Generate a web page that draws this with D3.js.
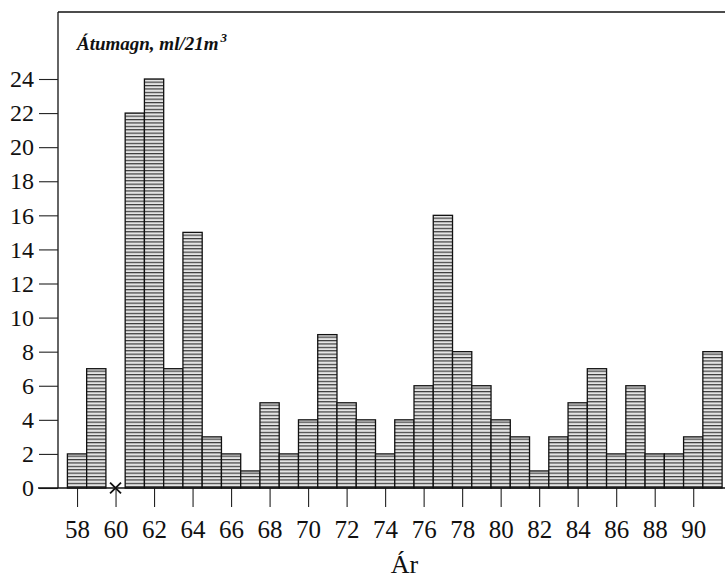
<!DOCTYPE html>
<html>
<head>
<meta charset="utf-8">
<script src="https://cdn.jsdelivr.net/npm/d3@7"></script>
<style>
  body { margin: 0; background: #fff; }
  svg { display: block; }
</style>
</head>
<body>
<div id="chart"></div>
<script>
var w = 725,
	h = 578;

// years 1958-1991, spawning volume
var years  = d3.range(58, 92)
var values = [2, 7, 0, 22, 24, 7, 15, 3, 2, 1, 5, 2, 4, 9, 5, 4, 2,
              4, 6, 16, 8, 6, 4, 3, 1, 3, 5, 7, 2, 6, 2, 2, 3, 8]
var yTicks = d3.range(0, 26, 2)
var xTicks = d3.range(58, 92, 2)
var yLabel = "Átumagn, ml/21m"
var xLabel = "Ár"

var serif = "'Liberation Serif', 'Times New Roman', serif"

var svg = d3.select("#chart")
	.append("svg")
	.attr("width", w)
	.attr("height", h)

var x = d3.scaleLinear().domain([57.5, 91.5]).range([67.4, 722.1])
var y = d3.scaleLinear().domain([0, 24]).range([488, 79])

var frameLeft = 58,
	frameTop = 12

// horizontal hatching for bars
var pat = svg.append("defs").append("pattern")
	.attr("id", "hatch")
	.attr("patternUnits", "userSpaceOnUse")
	.attr("width", 6)
	.attr("height", 3.4)
pat.append("rect").attr("width", 6).attr("height", 3.4).attr("fill", "#e4e4e4")
pat.append("line")
	.attr("x1", 0).attr("x2", 6)
	.attr("y1", 0.6).attr("y2", 0.6)
	.attr("stroke", "#2a2a2a")
	.attr("stroke-width", 1.1)

svg.selectAll(".bar")
	.data(values)
	.enter()
	.append("rect")
	.attr("class", "bar")
	.attr("x", function(d, i) { return x(years[i] - 0.5) })
	.attr("width", function(d, i) { return x(years[i] + 0.5) - x(years[i] - 0.5) })
	.attr("y", function(d) { return y(d) })
	.attr("height", function(d) { return y(0) - y(d) })
	.attr("fill", "url(#hatch)")
	.attr("stroke", "#111")
	.attr("stroke-width", 1.3)
	.style("display", function(d) { return d > 0 ? null : "none" })

// frame: left and top
svg.append("line")
	.attr("x1", frameLeft).attr("x2", frameLeft)
	.attr("y1", frameTop).attr("y2", y(0))
	.attr("stroke", "#111").attr("stroke-width", 1.3)
svg.append("line")
	.attr("x1", frameLeft).attr("x2", w)
	.attr("y1", frameTop).attr("y2", frameTop)
	.attr("stroke", "#111").attr("stroke-width", 1.3)

// y axis
var yAxis = svg.append("g")
	.attr("transform", "translate(" + frameLeft + ",0)")
	.call(d3.axisLeft(y).tickValues(yTicks).tickSize(19).tickPadding(5))
yAxis.select(".domain").remove()
yAxis.selectAll("line").attr("stroke", "#222").attr("stroke-width", 1.1)
yAxis.selectAll("text")
	.attr("font-family", serif)
	.attr("font-size", 24)
	.attr("fill", "#111")

// x axis
var xAxis = svg.append("g")
	.attr("transform", "translate(0," + y(0) + ")")
	.call(d3.axisBottom(x).tickValues(xTicks).tickSize(19).tickPadding(13))
xAxis.select(".domain").remove()
xAxis.selectAll("line").attr("stroke", "#222").attr("stroke-width", 1.1)
xAxis.selectAll("text")
	.attr("font-family", serif)
	.attr("font-size", 25)
	.attr("fill", "#111")

svg.append("line")
	.attr("x1", 38).attr("x2", w)
	.attr("y1", y(0)).attr("y2", y(0))
	.attr("stroke", "#111").attr("stroke-width", 1.3)

// zero value marker
svg.selectAll(".zero")
	.data(values.map(function(d, i) { return {yr: years[i], v: d} }).filter(function(d) { return d.v == 0 }))
	.enter()
	.append("path")
	.attr("class", "zero")
	.attr("d", d3.symbol().type(d3.symbolTimes).size(80))
	.attr("transform", function(d) { return "translate(" + x(d.yr) + "," + y(0) + ")" })
	.attr("fill", "none")
	.attr("stroke", "#111")
	.attr("stroke-width", 1.8)

// axis titles
var yt = svg.append("text")
	.attr("x", 77)
	.attr("y", 50)
	.attr("font-family", serif)
	.attr("font-style", "italic")
	.attr("font-weight", "bold")
	.attr("font-size", 19)
	.attr("fill", "#111")
	.text(yLabel)
yt.append("tspan")
	.attr("font-size", 13)
	.attr("dx", 2)
	.attr("dy", -8)
	.text("3")

svg.append("text")
	.attr("x", x(75))
	.attr("y", 573)
	.attr("text-anchor", "middle")
	.attr("font-family", serif)
	.attr("font-size", 26)
	.attr("fill", "#111")
	.text(xLabel)
</script>
</body>
</html>
